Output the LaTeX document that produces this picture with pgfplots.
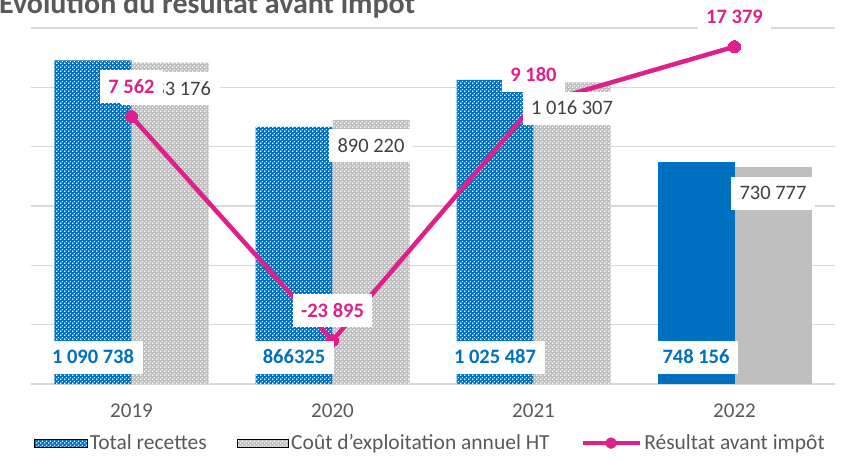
\documentclass[border=0pt]{standalone}
\usepackage{fontspec}
\setmainfont{Carlito}
\usepackage{pgfplots}
\pgfplotsset{compat=1.18}
\usetikzlibrary{patterns}

\definecolor{xblue}{HTML}{0070C0}
\definecolor{xgrey}{HTML}{BFBFBF}
\definecolor{xmag}{HTML}{E0208A}
\definecolor{gridc}{HTML}{D9D9D9}
\definecolor{txt}{HTML}{595959}
\definecolor{lbl}{HTML}{404040}

% small checker board, as in the Excel fills (white squares on the colour)
\pgfdeclarepatternformonly{check}{\pgfqpoint{0pt}{0pt}}{\pgfqpoint{4pt}{4pt}}{\pgfqpoint{4pt}{4pt}}{%
  \pgfpathrectangle{\pgfqpoint{0.3pt}{0.3pt}}{\pgfqpoint{1.4pt}{1.4pt}}%
  \pgfpathrectangle{\pgfqpoint{2.3pt}{2.3pt}}{\pgfqpoint{1.4pt}{1.4pt}}%
  \pgfusepath{fill}}

\newcommand\labfont{\fontsize{20.5}{24}\selectfont}
\newcommand\tickfont{\fontsize{21}{25}\selectfont}
\newcommand\legfont{\fontsize{21.5}{25}\selectfont}
\newcommand\titlefont{\fontsize{30}{34}\selectfont\bfseries}

\pgfplotsset{
  base/.style={at={(31pt,75pt)}, anchor=south west, scale only axis,
    width=804pt, height=356pt, xmin=-0.5, xmax=3.5, clip=false,
    scaled y ticks=false},
  prim/.style={base, ymin=0, ymax=1200000},
  sec/.style={base, ymin=-30000, ymax=20000},
  bars/.style={ybar, bar width=77pt, draw=none},
  bluebar/.style={bars, bar shift=-38.5pt, fill=xblue},
  greybar/.style={bars, bar shift=38.5pt, fill=xgrey},
  checked/.style={postaction={pattern=check, pattern color=white}},
  lab/.style={nodes near coords, point meta=explicit symbolic,
    nodes near coords align=center,
    every node near coord/.append style={font=\labfont, fill=white,
      inner xsep=8.5pt, inner ysep=10pt, text height=13pt, text depth=0pt,
      anchor=center}},
}

\begin{document}
\begin{tikzpicture}
% bars, grid and legend
\begin{axis}[prim,
  axis x line*=bottom, axis y line*=left,
  x axis line style={gridc, line width=1.3pt},
  y axis line style={draw=none},
  ytick={0,200000,400000,600000,800000,1000000,1200000},
  yticklabels={}, ytick style={draw=none},
  ymajorgrids, grid style={gridc, line width=1.3pt},
  xtick={0,1,2,3}, xticklabels={2019,2020,2021,2022},
  xtick style={draw=none},
  xticklabel style={font=\tickfont, text=txt, anchor=north, inner sep=0pt,
    text height=13.5pt, text depth=0pt, yshift=-20pt},
  legend columns=3,
  legend style={at={(0.497,-0.166)}, anchor=center, draw=none, fill=none,
    font=\legfont, text=txt, nodes={inner sep=2.5pt},
    /tikz/every even column/.append style={column sep=28pt}},
]
\addplot[bluebar, checked, forget plot]
  coordinates {(0,1090738) (1,866325) (2,1025487)};
\addplot[bluebar, forget plot]
  coordinates {(3,748156)};
\addplot[greybar, checked, forget plot]
  coordinates {(0,1083176) (1,890220) (2,1016307)};
\addplot[greybar, forget plot]
  coordinates {(3,730777)};

\addlegendimage{legend image code/.code={
  \fill[xblue] (0pt,-3.7pt) rectangle (53pt,3.7pt);
  \fill[pattern=check, pattern color=white] (0pt,-3.7pt) rectangle (53pt,3.7pt);}}
\addlegendentry{Total recettes}
\addlegendimage{legend image code/.code={
  \fill[xgrey] (0pt,-3.7pt) rectangle (51pt,3.7pt);
  \fill[pattern=check, pattern color=white] (0pt,-3.7pt) rectangle (51pt,3.7pt);}}
\addlegendentry{Coût d’exploitation annuel HT}
\addlegendimage{legend image code/.code={
  \draw[xmag, line width=4.5pt] (0pt,0pt) -- (57pt,0pt);
  \fill[xmag] (28.5pt,0pt) circle (5.5pt);}}
\addlegendentry{Résultat avant impôt}
\end{axis}

% result line on its own scale
\begin{axis}[sec, hide axis]
\addplot[xmag, line width=4.5pt, line join=round, mark=*, mark size=6pt,
  mark options={fill=xmag, draw=xmag, line width=0pt}]
  coordinates {(0,7562) (1,-23895) (2,9180) (3,17379)};
\end{axis}

% bar labels, above the line
\begin{axis}[prim, hide axis]
\addplot[bars, bar shift=38.5pt, fill=none, lab,
  every node near coord/.append style={text=lbl, xshift=38.5pt, yshift=-26pt}]
  coordinates {(0,1083176)[1 083 176] (1,890220)[890 220]
               (2,1016307)[1 016 307] (3,730777)[730 777]};
\addplot[bars, bar shift=-38.5pt, fill=none, lab,
  every node near coord/.append style={text=xblue, font=\labfont\bfseries, xshift=-38.5pt}]
  coordinates {(0,91000)[1 090 738] (1,91000)[866325]
               (2,91000)[1 025 487] (3,91000)[748 156]};
\end{axis}

% line labels on top
\begin{axis}[sec, hide axis]
\addplot[draw=none, mark=none, lab,
  every node near coord/.append style={text=xmag, font=\labfont\bfseries, yshift=30pt}]
  coordinates {(0,7562)[7 562] (1,-23895)[-23 895] (2,9180)[9 180] (3,17379)[17 379]};
\end{axis}

\node[anchor=base west, font=\titlefont, text=txt, inner sep=0pt]
  at (-1pt,445pt) {Évolution du résultat avant impôt};

\pgfresetboundingbox
\useasboundingbox (0,0) rectangle (846pt,459pt);
\end{tikzpicture}
\end{document}
